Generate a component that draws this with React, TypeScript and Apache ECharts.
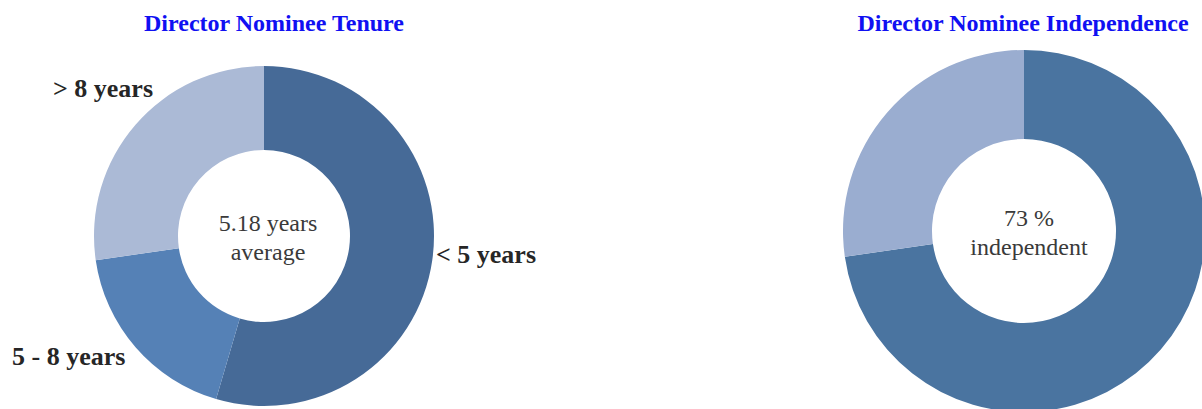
import React, { useEffect, useRef } from "react";
import * as echarts from "echarts";

const tenureCategories = ["< 5 years", "5 - 8 years", "> 8 years"];
const tenureValues = [6, 2, 3];
const tenureColors = ["#466a97", "#5581b6", "#abbad6"];
const tenureCenterText = "5.18 years\naverage";

const independenceCategories = ["Independent", "Not independent"];
const independenceValues = [8, 3];
const independenceColors = ["#4a74a0", "#9aadd0"];
const independenceCenterText = "73 %\nindependent";

const titles = ["Director Nominee Tenure", "Director Nominee Independence"];

export default function App() {
  const ref = useRef<HTMLDivElement>(null);
  useEffect(() => {
    if (!ref.current) return;
    const chart = echarts.init(ref.current, null, { renderer: "svg" });
    const labelPos: Record<number, { x: number; y: number }> = {
      0: { x: 436, y: 254 },
      1: { x: 12, y: 356 },
      2: { x: 53, y: 88 },
    };
    chart.setOption({
      animation: false,
      backgroundColor: "#ffffff",
      title: [
        {
          text: titles[0],
          left: 269,
          top: 6,
          textAlign: "center",
          textStyle: { fontFamily: "Liberation Serif", fontWeight: "bold", fontSize: 24, color: "#1010f2" },
        },
        {
          text: titles[1],
          left: 1018,
          top: 6,
          textAlign: "center",
          textStyle: { fontFamily: "Liberation Serif", fontWeight: "bold", fontSize: 24, color: "#1010f2" },
        },
        {
          text: tenureCenterText,
          left: 263,
          top: 203,
          textAlign: "center",
          textStyle: { fontFamily: "Liberation Serif", fontWeight: "normal", fontSize: 24, lineHeight: 29, color: "#3a3a3a" },
        },
        {
          text: independenceCenterText,
          left: 1024,
          top: 198,
          textAlign: "center",
          textStyle: { fontFamily: "Liberation Serif", fontWeight: "normal", fontSize: 24, lineHeight: 29, color: "#3a3a3a" },
        },
      ],
      series: [
        {
          type: "pie",
          center: [264, 236],
          radius: [86, 170],
          startAngle: 90,
          clockwise: true,
          silent: true,
          data: tenureCategories.map((name, i) => ({
            name,
            value: tenureValues[i],
            itemStyle: { color: tenureColors[i] },
          })),
          label: {
            show: true,
            position: "outside",
            formatter: "{b}",
            overflow: "none",
            fontFamily: "Liberation Serif",
            fontWeight: "bold",
            fontSize: 26,
            color: "#262626",
          },
          labelLine: { show: false },
          labelLayout: (params: any) => {
            const p = labelPos[params.dataIndex];
            return { x: p.x, y: p.y, align: "left", verticalAlign: "middle" };
          },
        },
        {
          type: "pie",
          center: [1024, 231],
          radius: [92, 181],
          startAngle: 90,
          clockwise: true,
          silent: true,
          data: independenceCategories.map((name, i) => ({
            name,
            value: independenceValues[i],
            itemStyle: { color: independenceColors[i] },
          })),
          label: { show: false },
          labelLine: { show: false },
        },
      ],
    });
    return () => chart.dispose();
  }, []);
  return (
    <div
      ref={ref}
      style={{ position: "fixed", left: 0, top: 0, width: 1202, height: 409, background: "#fff" }}
    />
  );
}
